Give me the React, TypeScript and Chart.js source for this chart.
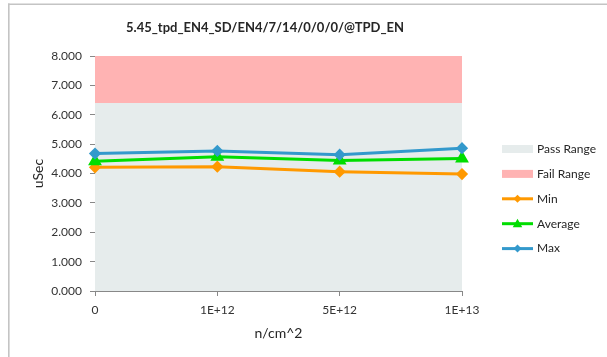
import React, { useEffect, useRef } from "react";
import { Chart, registerables } from "chart.js";

Chart.register(...registerables);

const chartTitle = "5.45_tpd_EN4_SD/EN4/7/14/0/0/0/@TPD_EN";
const categories = ["0", "1E+12", "5E+12", "1E+13"];
const passRange = [6.4, 6.4, 6.4, 6.4];
const failRange = [8, 8, 8, 8];
const minValues = [4.21, 4.23, 4.06, 3.98];
const avgValues = [4.42, 4.57, 4.44, 4.51];
const maxValues = [4.68, 4.77, 4.64, 4.86];
const yMin = 0;
const yMax = 8;
const yStep = 1;
const xTitle = "n/cm^2";
const yTitle = "uSec";

const FONT = "Lato, 'Open Sans', sans-serif";
const TEXT = "#333333";
const AXIS = "#888888";

const framePlugin = {
  id: "frame",
  beforeDraw(chart: any) {
    const ctx = chart.ctx;
    ctx.save();
    ctx.fillStyle = "#ffffff";
    ctx.fillRect(0, 0, chart.width, chart.height);
    ctx.fillStyle = "#c4c4c4";
    ctx.fillRect(8, 3.5, chart.width, 1.5);
    ctx.fillRect(8, 3.5, 1.6, chart.height);
    ctx.restore();
  },
};

const titlePlugin = {
  id: "customTitle",
  afterDraw(chart: any) {
    const ctx = chart.ctx;
    ctx.save();
    ctx.font = `bold 13px ${FONT}`;
    ctx.fillStyle = "#262626";
    ctx.textAlign = "center";
    ctx.textBaseline = "middle";
    ctx.fillText(chartTitle, 265, 28);
    ctx.restore();
  },
};

function drawMarker(ctx: any, style: string, x: number, y: number, r: number, color: string) {
  ctx.save();
  ctx.fillStyle = color;
  ctx.beginPath();
  if (style === "triangle") {
    ctx.moveTo(x, y - r);
    ctx.lineTo(x + r * 0.95, y + r * 0.7);
    ctx.lineTo(x - r * 0.95, y + r * 0.7);
  } else {
    ctx.moveTo(x, y - r);
    ctx.lineTo(x + r, y);
    ctx.lineTo(x, y + r);
    ctx.lineTo(x - r, y);
  }
  ctx.closePath();
  ctx.fill();
  ctx.restore();
}

const legendPlugin = {
  id: "customLegend",
  afterDraw(chart: any) {
    const ctx = chart.ctx;
    const x0 = chart.chartArea.right + 40;
    const y0 = 149;
    const step = 24.9;
    ctx.save();
    ctx.font = `12px ${FONT}`;
    ctx.textBaseline = "middle";
    ctx.textAlign = "left";
    chart.data.datasets.forEach((ds: any, i: number) => {
      const y = y0 + i * step;
      if (ds.fill) {
        ctx.fillStyle = ds.backgroundColor;
        ctx.fillRect(x0, y - 4, 31, 8);
      } else {
        ctx.strokeStyle = ds.borderColor;
        ctx.lineWidth = 3;
        ctx.beginPath();
        ctx.moveTo(x0, y);
        ctx.lineTo(x0 + 31, y);
        ctx.stroke();
        drawMarker(ctx, ds.pointStyle, x0 + 15.5, y, ds.pointStyle === "triangle" ? 5 : 4, ds.borderColor);
      }
      ctx.fillStyle = "#262626";
      ctx.fillText(ds.label, x0 + 35, y);
    });
    ctx.restore();
  },
};

export default function App() {
  const ref = useRef<HTMLCanvasElement | null>(null);
  useEffect(() => {
    if (!ref.current) return;
    const chart = new Chart(ref.current, {
      type: "line",
      data: {
        labels: categories,
        datasets: [
          {
            label: "Pass Range",
            data: passRange,
            backgroundColor: "#E6ECEC",
            borderWidth: 0,
            pointRadius: 0,
            fill: "origin",
            order: 10,
          },
          {
            label: "Fail Range",
            data: failRange,
            backgroundColor: "#FFB3B3",
            borderWidth: 0,
            pointRadius: 0,
            fill: "-1",
            order: 9,
          },
          {
            label: "Min",
            data: minValues,
            borderColor: "#FF9900",
            backgroundColor: "#FF9900",
            borderWidth: 3,
            pointStyle: "rectRot",
            pointRadius: 4,
            fill: false,
            order: 3,
          },
          {
            label: "Average",
            data: avgValues,
            borderColor: "#00DD00",
            backgroundColor: "#00DD00",
            borderWidth: 3,
            pointStyle: "triangle",
            pointRadius: 5,
            fill: false,
            order: 2,
          },
          {
            label: "Max",
            data: maxValues,
            borderColor: "#3399CC",
            backgroundColor: "#3399CC",
            borderWidth: 3,
            pointStyle: "rectRot",
            pointRadius: 4,
            fill: false,
            order: 1,
          },
        ],
      } as any,
      options: {
        responsive: false,
        animation: false,
        events: [],
        layout: { padding: { top: 56, right: 145, bottom: 10, left: 30 } },
        plugins: {
          legend: { display: false },
          title: { display: false },
          tooltip: { enabled: false },
        },
        scales: {
          x: {
            type: "category",
            offset: false,
            grid: {
              drawOnChartArea: false,
              drawTicks: true,
              tickLength: 5,
              color: AXIS,
            },
            border: { color: AXIS, width: 1 },
            ticks: {
              color: TEXT,
              font: { family: FONT, size: 12 },
              padding: 7,
              maxRotation: 0,
            },
            title: {
              display: true,
              text: xTitle,
              color: "#262626",
              font: { family: FONT, size: 14 },
              padding: { top: 2, bottom: 5 },
            },
            afterFit(scale: any) {
              scale.height = 56;
            },
          },
          y: {
            min: yMin,
            max: yMax,
            grid: {
              drawOnChartArea: false,
              drawTicks: true,
              tickLength: 5,
              color: AXIS,
            },
            border: { color: AXIS, width: 1 },
            ticks: {
              stepSize: yStep,
              color: TEXT,
              font: { family: FONT, size: 12 },
              padding: 8,
              callback: (v: any) => Number(v).toFixed(3),
            },
            title: {
              display: true,
              text: yTitle,
              color: "#262626",
              font: { family: FONT, size: 14 },
              padding: { top: 0, bottom: 0 },
            },
            afterFit(scale: any) {
              scale.width = 65;
            },
          },
        },
      } as any,
      plugins: [framePlugin, titlePlugin, legendPlugin],
    });
    return () => chart.destroy();
  }, []);
  return (
    <div style={{ position: "fixed", left: 0, top: 0, width: 607, height: 357 }}>
      <canvas ref={ref} width={607} height={357} style={{ width: 607, height: 357, display: "block" }} />
    </div>
  );
}
